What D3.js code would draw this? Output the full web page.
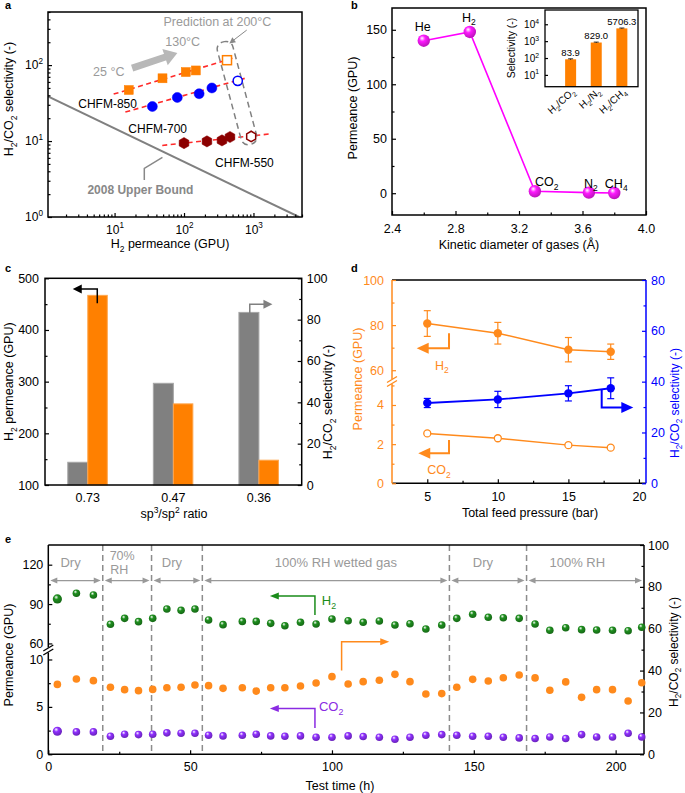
<!DOCTYPE html>
<html><head><meta charset="utf-8">
<script src="https://cdn.jsdelivr.net/npm/d3@7/dist/d3.min.js"></script>
<style>html,body{margin:0;padding:0;background:#fff}</style>
</head><body>
<svg id="chart" width="685" height="793" xmlns="http://www.w3.org/2000/svg"></svg>
<script>
const FONT='"Liberation Sans", Arial, Helvetica, sans-serif';
// ---------------- DATA ----------------
// Panel a
const a850Perm=[16,49,106,148,416];
const a850Sel=[47,67,81,85,116];
const a700Perm=[35,80,165,252,594];
const a700Sel=[28.5,37.5,42,50,62];
const a550Perm=[100,214,352,459,927];
const a550Sel=[9.4,9.9,10.2,11.3,11.5];
const aPredicted=[false,false,false,false,true];
const aFit850=[[9.7,41.5],[561,127]];
const aFit700=[[14.3,24.1],[830,68.7]];
const aFit550=[[48.6,8.75],[1706,12.4]];
const aUpperBound=[[1.1,38.6],[4550,1]];
const aXTicks=[10,100,1000];
const aYTicks=[1,10,100];
// Panel b
const bGases=['He','H{_2}','CO{_2}','N{_2}','CH{_4}'];
const bDiameter=[2.6,2.89,3.3,3.64,3.8];
const bPermeance=[140,148,1.8,0.5,0.2];
const bXTicks=[2.4,2.8,3.2,3.6,4.0];
const bYTicks=[0,50,100,150];
const bPairs=['H{_2}/CO{_2}','H{_2}/N{_2}','H{_2}/CH{_4}'];
const bSelectivity=[83.9,829.0,5706.3];
const bSelErr=[6,50,300];
const bInsetTicks=[10,100,1000,10000];
// Panel c
const cRatio=['0.73','0.47','0.36'];
const cH2Perm=[467,257,148];
const cSel=[11,49.2,83.5];
const cLeftTicks=[100,200,300,400,500];
const cRightTicks=[0,20,40,60,80,100];
// Panel d
const dPressure=[5,10,15,18];
const dH2=[80.7,76.4,69.1,68.2];
const dH2Err=[5.7,4.8,5.4,3.4];
const dCO2=[2.55,2.3,1.95,1.82];
const dSel=[31.6,33.0,35.4,37.4];
const dSelErr=[1.8,3.2,3.0,4.1];
const dXTicks=[5,10,15,20];
// Panel e
const eTime=[3.2,9.9,15.9,21.9,26.9,31.8,36.8,41.8,46.8,51.7,56.5,61.6,68.4,73.3,78.4,83.4,88.9,94.4,100,
  105.7,111.0,116.7,122.2,127.5,133.1,138.7,144.0,149.6,155.1,160.4,166.0,171.6,176.8,182.4,188.0,193.3,198.9,204.4,209.2];
const eH2=[93.9,98.2,96.9,74.6,79.1,76.6,79.1,86.2,85.2,86.2,77.9,74.3,76.8,76.8,75.3,73.5,76.1,74.8,78.6,
  77.3,76.1,77.1,74.0,75.0,71.0,74.0,79.1,82.2,79.9,79.6,79.1,74.8,70.0,72.0,70.5,70.2,70.0,69.7,72.3];
const eCO2=[2.43,2.36,2.36,1.90,2.12,2.08,2.12,2.26,2.22,2.22,2.01,1.94,2.01,2.12,1.94,1.90,1.94,1.80,1.80,
  1.94,1.87,1.80,1.59,1.80,2.01,2.08,2.01,1.90,1.90,1.80,1.73,1.66,1.83,1.66,2.08,1.83,1.83,2.22,1.83];
const eSel=[33.4,36.0,35.2,32.0,30.9,30.4,31.0,31.8,32.0,33.1,32.8,31.5,31.8,30.2,31.8,31.8,32.6,34.1,37.1,
  33.6,34.7,35.4,38.2,34.7,28.8,29.0,32.0,35.8,35.0,36.6,37.9,36.5,30.6,34.6,27.2,30.9,30.9,25.5,34.2];
const eBounds=[0,19.2,36.4,54.3,141.4,168.6,210];
const eRegions=['Dry','70%|RH','Dry','100% RH wetted gas','Dry','100% RH'];

// ---------------- HELPERS ----------------
const svg=d3.select('#chart');
const defs=svg.append('defs');
function rich(text,str,fs){
  text.text(null);
  const re=/\{([_^])([^}]*)\}/g; let last=0,m,cur=0;
  const add=(s,type)=>{
    if(!s) return;
    const target=type==='_'?0.28*fs:type==='^'?-0.42*fs:0;
    const ts=text.append('tspan').text(s);
    if(type) ts.attr('font-size',fs*0.68);
    if(target!==cur){ts.attr('dy',target-cur);cur=target;}
  };
  while((m=re.exec(str))){add(str.slice(last,m.index),null);add(m[2],m[1]);last=re.lastIndex;}
  add(str.slice(last),null);
}
function T(parent,x,y,str,o={}){
  const fs=o.fs||12.5;
  const t=parent.append('text').attr('font-family',FONT).attr('font-size',fs)
    .attr('fill',o.fill||'#000').attr('text-anchor',o.anchor||'start');
  if(o.weight) t.attr('font-weight',o.weight);
  if(o.rot!=null) t.attr('transform',`translate(${x},${y}) rotate(${o.rot})`);
  else t.attr('x',x).attr('y',y);
  rich(t,str,fs);
  return t;
}
function mkAxis(parent,o){
  const fn={left:d3.axisLeft,right:d3.axisRight,bottom:d3.axisBottom,top:d3.axisTop}[o.orient];
  const vert=o.orient==='left'||o.orient==='right';
  const color=o.color||'#000',fs=o.fs||12.5;
  const tr=vert?`translate(${o.at},0)`:`translate(0,${o.at})`;
  const g=parent.append('g').attr('transform',tr);
  const axis=fn(o.scale).tickValues(o.major).tickSizeInner(-(o.len??4)).tickSizeOuter(0).tickPadding(o.pad??5)
    .tickFormat(o.fmt||(d=>d));
  g.call(axis);
  g.select('.domain').remove();
  g.selectAll('.tick line').attr('stroke',color).attr('stroke-width',1.2);
  g.selectAll('.tick text').attr('fill',color).attr('font-size',fs).attr('font-family',FONT)
    .each(function(){const s=d3.select(this);rich(s,s.text(),fs);});
  if(o.minor){
    const gm=parent.append('g').attr('transform',tr);
    gm.call(fn(o.scale).tickValues(o.minor).tickSizeInner(-(o.mlen??2.5)).tickSizeOuter(0).tickFormat(''));
    gm.select('.domain').remove();
    gm.selectAll('text').remove();
    gm.selectAll('.tick line').attr('stroke',color).attr('stroke-width',1.2);
  }
  return g;
}
function head(g,x,y,ang,len,half,color){
  const a=ang*Math.PI/180,c=Math.cos(a),s=Math.sin(a);
  const bx=x-len*c,by=y-len*s;
  g.append('polygon').attr('points',[[x,y],[bx-half*s,by+half*c],[bx+half*s,by-half*c]].map(p=>p.join(',')).join(' '))
    .attr('fill',color);
}
function bracket(g,pts,color,w,len,half){
  const n=pts.length,p=pts[n-1],q=pts[n-2];
  const ang=Math.atan2(p[1]-q[1],p[0]-q[0]);
  const base=[p[0]-len*0.8*Math.cos(ang),p[1]-len*0.8*Math.sin(ang)];
  const path=pts.slice(0,n-1).concat([base]);
  g.append('polyline').attr('points',path.map(d=>d.join(',')).join(' ')).attr('fill','none')
    .attr('stroke',color).attr('stroke-width',w);
  head(g,p[0],p[1],ang*180/Math.PI,len,half,color);
}
function sphere(id,base){
  const g=defs.append('radialGradient').attr('id',id).attr('cx','0.42').attr('cy','0.38').attr('r','0.62')
    .attr('fx','0.36').attr('fy','0.3');
  g.append('stop').attr('offset','0').attr('stop-color','#ffffff');
  g.append('stop').attr('offset','0.38').attr('stop-color',base);
  g.append('stop').attr('offset','1').attr('stop-color',d3.color(base).darker(0.9));
}
sphere('gMag','#ff1aff');sphere('gGreen','#1f8f1f');sphere('gPurple','#9030ff');
function frame(g,L){
  g.append('rect').attr('x',L.l).attr('y',L.t).attr('width',L.r-L.l).attr('height',L.b-L.t)
    .attr('fill','none').attr('stroke','#000').attr('stroke-width',1.5);
}
function breakMark(g,x,y,color){
  g.append('rect').attr('x',x-5).attr('y',y-2.5).attr('width',10).attr('height',5).attr('fill','#fff');
  [-2,2].forEach(o=>g.append('line').attr('x1',x-5).attr('y1',y+o+3).attr('x2',x+5).attr('y2',y+o-3)
    .attr('stroke',color).attr('stroke-width',1.3));
}
const pow10=d=>'10{^'+Math.round(Math.log10(d))+'}';

// ---------------- PANEL A ----------------
{
const A={l:48,r:302,t:12,b:217};
const ax=d3.scaleLog([1.1,5000],[A.l,A.r]);
const ay=d3.scaleLog([1,500],[A.b,A.t]);
const g=svg.append('g');
defs.append('clipPath').attr('id','clipA').append('rect').attr('x',A.l).attr('y',A.t).attr('width',A.r-A.l).attr('height',A.b-A.t);
const pc=g.append('g').attr('clip-path','url(#clipA)');
const ln=d3.line().x(d=>ax(d[0])).y(d=>ay(d[1]));
pc.append('path').attr('d',ln(aUpperBound)).attr('stroke','#808080').attr('stroke-width',2).attr('fill','none');
[aFit850,aFit700,aFit550].forEach(f=>pc.append('path').attr('d',ln(f)).attr('stroke','#ff2a2a')
  .attr('stroke-width',1.6).attr('stroke-dasharray','5,3.5').attr('fill','none'));
const lc=[ax(580),ay(42.8)];
g.append('rect').attr('transform',`translate(${lc[0]},${lc[1]}) rotate(-15)`).attr('x',-8).attr('y',-53)
  .attr('width',16).attr('height',106).attr('rx',7).attr('fill','none').attr('stroke','#808080')
  .attr('stroke-width',1.5).attr('stroke-dasharray','6,4');
const s=[ax(17.9),ay(91.3)],e=[ax(80.2),ay(144)];
const ang=Math.atan2(e[1]-s[1],e[0]-s[0]);
g.append('line').attr('x1',s[0]).attr('y1',s[1]).attr('x2',e[0]-11*Math.cos(ang)).attr('y2',e[1]-11*Math.sin(ang))
  .attr('stroke','#b8b8b8').attr('stroke-width',7);
head(g,e[0],e[1],ang*180/Math.PI,13,8.5,'#b8b8b8');
const pa=[ax(800),ay(289)],pb=[ax(450),ay(193)];
bracket(g,[pa,pb],'#888',1,6,3);
g.append('polyline').attr('points',[[26.8,3.07],[26.8,4.37],[48.9,6.1]].map(d=>[ax(d[0]),ay(d[1])].join(',')).join(' '))
  .attr('fill','none').attr('stroke','#888').attr('stroke-width',1.5);
const hex=r=>{let p='';for(let i=0;i<6;i++){const a=(-90+60*i)*Math.PI/180;p+=(i?'L':'M')+(r*Math.cos(a)).toFixed(2)+','+(r*Math.sin(a)).toFixed(2);}return p+'Z';};
const series=[{perm:a850Perm,sel:a850Sel,color:'#ff7f00',shape:'sq'},
  {perm:a700Perm,sel:a700Sel,color:'#0000ff',shape:'ci'},
  {perm:a550Perm,sel:a550Sel,color:'#8b0000',shape:'hx'}];
series.forEach(S=>S.perm.forEach((p,i)=>{
  const x=ax(p),y=ay(S.sel[i]),open=aPredicted[i];
  let m;
  if(S.shape==='sq') m=g.append('rect').attr('x',x-4.5).attr('y',y-4.5).attr('width',9).attr('height',9);
  else if(S.shape==='ci') m=g.append('circle').attr('cx',x).attr('cy',y).attr('r',open?4.6:5);
  else m=g.append('path').attr('d',hex(open?5.2:5.6)).attr('transform',`translate(${x},${y})`);
  m.attr('fill',open?'#fff':S.color).attr('stroke',S.color).attr('stroke-width',open?1.5:0.5);
}));
frame(g,A);
mkAxis(g,{orient:'left',scale:ay,at:A.l,major:aYTicks,minor:[2,3,4,5,6,7,8,9,20,30,40,50,60,70,80,90,200,300,400,500],fmt:pow10,fs:12,pad:5});
const xm=[];[1,10,100,1000].forEach(d=>[2,3,4,5,6,7,8,9].forEach(k=>{if(d*k<=5000)xm.push(d*k);}));
mkAxis(g,{orient:'bottom',scale:ax,at:A.b,major:aXTicks,minor:xm,fmt:pow10,fs:12,pad:8});
T(g,ax(4.9),ay(72.3),'25 °C',{fill:'#9a9a9a'});
T(g,ax(53.7),ay(177),'130°C',{fill:'#9a9a9a'});
T(g,ax(50.7),ay(326),'Prediction at 200°C',{fill:'#9a9a9a'});
T(g,ax(3.0),ay(27.2),'CHFM-850',{fs:12});
T(g,ax(15.8),ay(12.7),'CHFM-700',{fs:12});
T(g,ax(280),ay(4.55),'CHFM-550',{fs:12});
T(g,ax(4.06),ay(1.98),'2008 Upper Bound',{fill:'#888',weight:'bold',fs:12});
T(g,170,248,'H{_2} permeance (GPU)',{anchor:'middle'});
T(g,13,99,'H{_2}/CO{_2} selectivity (-)',{anchor:'middle',rot:-90});
T(svg,5,9,'a',{weight:'bold',fs:11});
}

// ---------------- PANEL B ----------------
{
const B={l:392,r:646,t:8,b:215};
const bx=d3.scaleLinear([2.4,4.0],[B.l,B.r]);
const by=d3.scaleLinear([-20,170],[B.b,B.t]);
const g=svg.append('g');
frame(g,B);
mkAxis(g,{orient:'left',scale:by,at:B.l,major:bYTicks,minor:[25,75,125],pad:5});
mkAxis(g,{orient:'bottom',scale:bx,at:B.b,major:bXTicks,minor:[2.6,3.0,3.4,3.8],fmt:d3.format('.1f'),pad:9});
g.append('path').attr('d',d3.line().x((d,i)=>bx(bDiameter[i])).y(d=>by(d))(bPermeance))
  .attr('fill','none').attr('stroke','#ff00ff').attr('stroke-width',1.6);
bPermeance.forEach((v,i)=>g.append('circle').attr('cx',bx(bDiameter[i])).attr('cy',by(v)).attr('r',6.2).attr('fill','url(#gMag)'));
bGases.forEach((n,i)=>{
  const x=bx(bDiameter[i]),y=by(bPermeance[i]);
  if(i<2) T(g,x-1,y-10,n,{anchor:'middle'});
  else if(i===2) T(g,x,y-5,n);
  else T(g,x+2,y-5,n,{anchor:'middle'});
});
const I={l:545,r:638,t:10,b:86.7};
const ix=d3.scaleLinear([0,3.63],[I.l,I.r]);
const iy=d3.scaleLog([2,70000],[I.b,I.t]);
g.append('rect').attr('x',I.l).attr('y',I.t).attr('width',I.r-I.l).attr('height',I.b-I.t).attr('fill','#fff');
bSelectivity.forEach((v,i)=>{
  const c=ix(i+1);
  g.append('rect').attr('x',c-5.5).attr('y',iy(v)).attr('width',11).attr('height',I.b-iy(v)).attr('fill','#ff8000');
  const y1=iy(v+bSelErr[i]),y2=iy(v-bSelErr[i]);
  g.append('line').attr('x1',c).attr('x2',c).attr('y1',y1).attr('y2',y2).attr('stroke','#000').attr('stroke-width',0.8);
  g.append('line').attr('x1',c-2.5).attr('x2',c+2.5).attr('y1',y1).attr('y2',y1).attr('stroke','#000').attr('stroke-width',0.8);
  T(g,c,y1-3,d3.format('.1f')(v),{anchor:'middle',fs:9.5});
  T(g,c+5,I.b+6,bPairs[i],{anchor:'end',rot:-42,fs:10});
});
g.append('rect').attr('x',I.l).attr('y',I.t).attr('width',I.r-I.l).attr('height',I.b-I.t)
  .attr('fill','none').attr('stroke','#000').attr('stroke-width',1.3);
mkAxis(g,{orient:'left',scale:iy,at:I.l,major:bInsetTicks,fmt:pow10,fs:10,pad:6,len:3});
T(g,515,48,'Selectivity (-)',{anchor:'middle',rot:-90,fs:10.5});
T(g,519,249,'Kinetic diameter of gases (Å)',{anchor:'middle'});
T(g,357,108,'Permeance (GPU)',{anchor:'middle',rot:-90});
T(svg,351,9,'b',{weight:'bold',fs:11});
}

// ---------------- PANEL C ----------------
{
const C={l:45,r:301.7,t:278.3,b:485};
const cx=d3.scaleBand(cRatio,[C.l,C.r]);
const cxLin=d3.scaleLinear([0,3],[C.l,C.r]);
const cyL=d3.scaleLinear([100,500],[C.b,C.t]);
const cyR=d3.scaleLinear([0,100],[C.b,C.t]);
const g=svg.append('g');
cRatio.forEach((r,i)=>{
  const c=cx(r)+cx.bandwidth()/2;
  g.append('rect').attr('x',c-20).attr('y',cyR(cSel[i])).attr('width',20).attr('height',C.b-cyR(cSel[i]))
    .attr('fill','#808080').attr('stroke','#a6a6a6').attr('stroke-width',1);
  g.append('rect').attr('x',c).attr('y',cyL(cH2Perm[i])).attr('width',19.5).attr('height',C.b-cyL(cH2Perm[i]))
    .attr('fill','#ff8000').attr('stroke','#ffa64d').attr('stroke-width',1);
});
frame(g,C);
mkAxis(g,{orient:'left',scale:cyL,at:C.l,major:cLeftTicks,minor:[150,250,350,450],pad:6});
mkAxis(g,{orient:'right',scale:cyR,at:C.r,major:cRightTicks,minor:[10,30,50,70,90],pad:5});
mkAxis(g,{orient:'bottom',scale:cx,at:C.b,major:cRatio,len:0,pad:8});
bracket(g,[[cxLin(0.611),cyL(451.7)],[cxLin(0.611),cyL(479.3)],[cxLin(0.324),cyL(479.3)]],'#000',1.5,9,4.5);
bracket(g,[[cxLin(2.393),cyR(80.6)],[cxLin(2.393),cyR(87.4)],[cxLin(2.658),cyR(87.4)]],'#808080',1.5,9,4.5);
T(g,174,518,'sp{^3}/sp{^2} ratio',{anchor:'middle'});
T(g,13,381.7,'H{_2} permeance (GPU)',{anchor:'middle',rot:-90});
T(g,332,402,'H{_2}/CO{_2} selectivity (-)',{anchor:'middle',rot:-90});
T(svg,5,272,'c',{weight:'bold',fs:11});
}

// ---------------- PANEL D ----------------
{
const D={l:392,r:646,t:280,b:483.3};
const OR='#ff8a1c',BL='#0000ff';
const dx=d3.scaleLinear([2.5,20.5],[D.l,D.r]);
const brk=381.5;
const dyU=d3.scaleLinear([55,100],[brk,D.t]);
const dyL=d3.scaleLinear([0,5.2],[D.b,brk]);
const dyR=d3.scaleLinear([0,80],[D.b,D.t]);
const g=svg.append('g');
g.append('line').attr('x1',D.l).attr('x2',D.r).attr('y1',D.t).attr('y2',D.t).attr('stroke','#000').attr('stroke-width',1.5);
g.append('line').attr('x1',D.l).attr('x2',D.r).attr('y1',D.b).attr('y2',D.b).attr('stroke','#000').attr('stroke-width',1.5);
g.append('line').attr('x1',D.r).attr('x2',D.r).attr('y1',D.t).attr('y2',D.b).attr('stroke',BL).attr('stroke-width',1.5);
g.append('line').attr('x1',D.l).attr('x2',D.l).attr('y1',D.t).attr('y2',D.b).attr('stroke',OR).attr('stroke-width',1.5);
breakMark(g,D.l,brk,OR);
mkAxis(g,{orient:'left',scale:dyU,at:D.l,major:[60,80,100],minor:[70,90],color:OR,pad:8});
mkAxis(g,{orient:'left',scale:dyL,at:D.l,major:[0,2,4],minor:[1,3,5],color:OR,pad:8});
mkAxis(g,{orient:'right',scale:dyR,at:D.r,major:[0,20,40,60,80],minor:[10,30,50,70],color:BL,pad:5});
mkAxis(g,{orient:'bottom',scale:dx,at:D.b,major:dXTicks,minor:[7.5,12.5,17.5],pad:9});
const errbar=(x,y1,y2,color)=>{
  g.append('line').attr('x1',x).attr('x2',x).attr('y1',y1).attr('y2',y2).attr('stroke',color).attr('stroke-width',1.2);
  [y1,y2].forEach(y=>g.append('line').attr('x1',x-3.5).attr('x2',x+3.5).attr('y1',y).attr('y2',y).attr('stroke',color).attr('stroke-width',1.2));
};
g.append('path').attr('d',d3.line().x((d,i)=>dx(dPressure[i])).y(d=>dyU(d))(dH2)).attr('fill','none').attr('stroke',OR).attr('stroke-width',1.5);
dH2.forEach((v,i)=>{errbar(dx(dPressure[i]),dyU(v+dH2Err[i]),dyU(v-dH2Err[i]),OR);
  g.append('circle').attr('cx',dx(dPressure[i])).attr('cy',dyU(v)).attr('r',4.2).attr('fill',OR);});
g.append('path').attr('d',d3.line().x((d,i)=>dx(dPressure[i])).y(d=>dyL(d))(dCO2)).attr('fill','none').attr('stroke',OR).attr('stroke-width',1.5);
dCO2.forEach((v,i)=>g.append('circle').attr('cx',dx(dPressure[i])).attr('cy',dyL(v)).attr('r',3.5).attr('fill','#fff').attr('stroke',OR).attr('stroke-width',1.3));
g.append('path').attr('d',d3.line().x((d,i)=>dx(dPressure[i])).y(d=>dyR(d))(dSel)).attr('fill','none').attr('stroke',BL).attr('stroke-width',1.8);
dSel.forEach((v,i)=>{errbar(dx(dPressure[i]),dyR(v+dSelErr[i]),dyR(v-dSelErr[i]),BL);
  g.append('circle').attr('cx',dx(dPressure[i])).attr('cy',dyR(v)).attr('r',4.2).attr('fill',BL);});
bracket(g,[[dx(6.54),dyU(76.4)],[dx(6.54),dyU(69.7)],[dx(4.25),dyU(69.7)]],OR,2,12,5.5);
bracket(g,[[dx(6.54),dyL(2.21)],[dx(6.54),dyL(1.53)],[dx(4.36),dyL(1.53)]],OR,2,12,5.5);
bracket(g,[[dx(17.36),dyR(36.9)],[dx(17.36),dyR(29.8)],[dx(19.6),dyR(29.8)]],BL,2,12,5.5);
T(g,dx(5.55),dyU(60.1),'H{_2}',{fill:OR});
T(g,dx(5.0),dyL(0.47),'CO{_2}',{fill:OR});
T(g,530,517,'Total feed pressure (bar)',{anchor:'middle'});
T(g,362,379,'Permeance (GPU)',{anchor:'middle',rot:-90,fill:OR});
T(g,679,403,'H{_2}/CO{_2} selectivity (-)',{anchor:'middle',rot:-90,fill:BL,fs:12});
T(svg,351,272,'d',{weight:'bold',fs:11});
}

// ---------------- PANEL E ----------------
{
const E={l:48.3,r:644,t:545,b:754.3};
const brk=650;
const ex=d3.scaleLinear([0,210],[E.l,E.r]);
const eyU=d3.scaleLinear([55,135],[brk,E.t]);
const eyL=d3.scaleLinear([0,11],[E.b,brk]);
const eyR=d3.scaleLinear([0,100],[E.b,E.t]);
const GR='#1a8c1a',PU='#8a2be2',OR='#ff8a1c',GY='#999';
const labelShift=[-5,-5,-5,10,-5,-8];
const g=svg.append('g');
eBounds.slice(1,-1).forEach(b=>g.append('line').attr('x1',ex(b)).attr('x2',ex(b)).attr('y1',E.t).attr('y2',E.b)
  .attr('stroke','#8c8c8c').attr('stroke-width',1.5).attr('stroke-dasharray','6,4'));
const ya=eyR(83);
eRegions.forEach((lab,i)=>{
  const x1=ex(eBounds[i])+2,x2=ex(eBounds[i+1])-2;
  g.append('line').attr('x1',x1+6).attr('x2',x2-6).attr('y1',ya).attr('y2',ya).attr('stroke',GY).attr('stroke-width',1.3);
  head(g,x1,ya,180,7,3,GY);head(g,x2,ya,0,7,3,GY);
  const cxm=(ex(eBounds[i])+ex(eBounds[i+1]))/2+labelShift[i];
  const parts=lab.split('|');
  if(parts.length===1) T(g,cxm,eyR(89.5),lab,{anchor:'middle',fill:GY,fs:13});
  else {T(g,cxm,eyR(92.9),parts[0],{anchor:'middle',fill:GY,fs:12.5});T(g,cxm-3,eyR(86.1),parts[1],{anchor:'middle',fill:GY,fs:12.5});}
});
g.append('line').attr('x1',E.l).attr('x2',E.r).attr('y1',E.t).attr('y2',E.t).attr('stroke','#000').attr('stroke-width',1.5);
g.append('line').attr('x1',E.l).attr('x2',E.r).attr('y1',E.b).attr('y2',E.b).attr('stroke','#000').attr('stroke-width',1.5);
g.append('line').attr('x1',E.r).attr('x2',E.r).attr('y1',E.t).attr('y2',E.b).attr('stroke','#000').attr('stroke-width',1.5);
g.append('line').attr('x1',E.l).attr('x2',E.l).attr('y1',E.t).attr('y2',E.b).attr('stroke','#000').attr('stroke-width',1.5);
breakMark(g,E.l,brk,'#000');
mkAxis(g,{orient:'left',scale:eyU,at:E.l,major:[60,90,120],minor:[75,105],pad:5});
mkAxis(g,{orient:'left',scale:eyL,at:E.l,major:[0,5,10],minor:[2.5,7.5],pad:5});
mkAxis(g,{orient:'right',scale:eyR,at:E.r,major:[0,20,40,60,80,100],minor:[10,30,50,70,90],pad:4});
mkAxis(g,{orient:'bottom',scale:ex,at:E.b,major:[0,50,100,150,200],minor:[25,75,125,175],pad:8});
eTime.forEach((t,i)=>{
  const r=i===0?4.6:3.8;
  g.append('circle').attr('cx',ex(t)).attr('cy',eyR(eSel[i])).attr('r',3.8).attr('fill',OR);
  g.append('circle').attr('cx',ex(t)).attr('cy',eyU(eH2[i])).attr('r',r).attr('fill','url(#gGreen)');
  g.append('circle').attr('cx',ex(t)).attr('cy',eyL(eCO2[i])).attr('r',r).attr('fill','url(#gPurple)');
});
bracket(g,[[ex(94),eyU(81.7)],[ex(94),eyU(96.1)],[ex(78.1),eyU(96.1)]],GR,1.5,9,3.5);
bracket(g,[[ex(94),eyL(2.78)],[ex(94),eyL(4.84)],[ex(78.1),eyL(4.84)]],PU,1.5,9,3.5);
bracket(g,[[ex(103.4),eyR(40)],[ex(103.4),eyR(53.8)],[ex(120.2),eyR(53.8)]],OR,1.5,9,3.5);
T(g,ex(96.4),eyU(89.3),'H{_2}',{fill:GR,fs:13});
T(g,ex(95.4),eyL(4.55),'CO{_2}',{fill:PU,fs:13});
T(g,340,790,'Test time (h)',{anchor:'middle'});
T(g,13,655,'Permeance (GPU)',{anchor:'middle',rot:-90});
T(g,678,652,'H{_2}/CO{_2} selectivity (-)',{anchor:'middle',rot:-90,fs:12});
T(svg,5,543,'e',{weight:'bold',fs:11});
}
</script>
</body></html>
